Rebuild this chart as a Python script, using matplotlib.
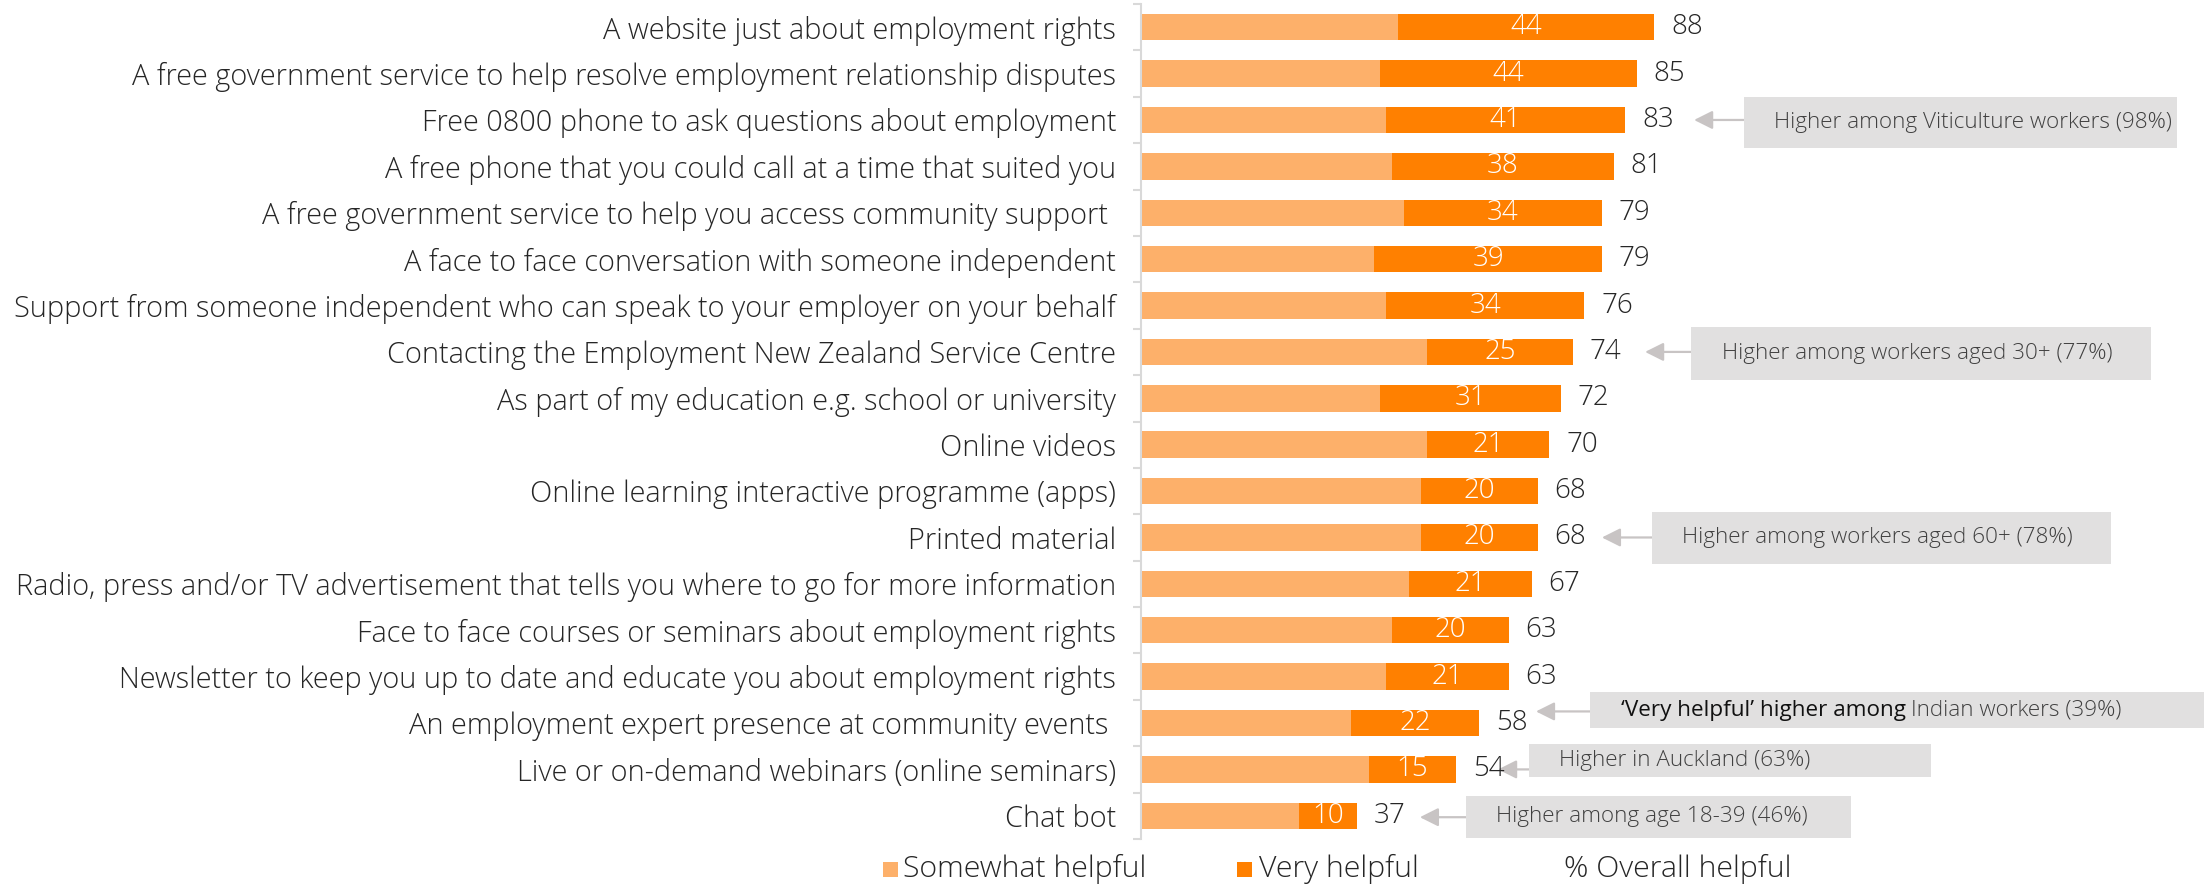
import matplotlib
matplotlib.use("Agg")
import matplotlib.pyplot as plt
from matplotlib.patches import Rectangle
import numpy as np

plt.rcParams['font.family'] = ['Open Sans', 'DejaVu Sans']

categories = [
    "A website just about employment rights",
    "A free government service to help resolve employment relationship disputes",
    "Free 0800 phone to ask questions about employment",
    "A free phone that you could call at a time that suited you",
    "A free government service to help you access community support ",
    "A face to face conversation with someone independent",
    "Support from someone independent who can speak to your employer on your behalf",
    "Contacting the Employment New Zealand Service Centre",
    "As part of my education e.g. school or university",
    "Online videos",
    "Online learning interactive programme (apps)",
    "Printed material",
    "Radio, press and/or TV advertisement that tells you where to go for more information",
    "Face to face courses or seminars about employment rights",
    "Newsletter to keep you up to date and educate you about employment rights",
    "An employment expert presence at community events ",
    "Live or on-demand webinars (online seminars)",
    "Chat bot",
]
somewhat = [44, 41, 42, 43, 45, 40, 42, 49, 41, 49, 48, 48, 46, 43, 42, 36, 39, 27]
very = [44, 44, 41, 38, 34, 39, 34, 25, 31, 21, 20, 20, 21, 20, 21, 22, 15, 10]
overall = [88, 85, 83, 81, 79, 79, 76, 74, 72, 70, 68, 68, 67, 63, 63, 58, 54, 37]

legend_labels = ["Somewhat helpful", "Very helpful", "% Overall helpful"]

# Call-out notes: (row, text)
notes = [
    (2, "Higher among Viticulture workers (98%)"),
    (7, "Higher among workers aged 30+ (77%)"),
    (11, "Higher among workers aged 60+ (78%)"),
    (15, "Indian workers (39%)"),
    (16, "Higher in Auckland (63%)"),
    (17, "Higher among age 18-39 (46%)"),
]
note_lead_bold = "\u2018Very helpful\u2019 higher among "

C_LIGHT = "#FDB06A"
C_DARK = "#FF8000"
C_TEXT = "#262626"
C_BOX = "#E1E0E0"
C_ARROW = "#C8C4C4"

W, H = 2204, 885
fig = plt.figure(figsize=(W / 100, H / 100), dpi=100)
ax = fig.add_axes([1141 / W, (H - 839) / H, (W - 1141) / W, 835 / H])

y = np.arange(len(categories))
bar_h = 0.57
ax.barh(y, somewhat, height=bar_h, color=C_LIGHT, linewidth=0)
ax.barh(y, very, left=somewhat, height=bar_h, color=C_DARK, linewidth=0)

for i in range(len(categories)):
    ax.text(somewhat[i] + very[i] / 2, i, str(very[i]), ha="center", va="center",
            color="white", fontsize=20, fontweight="light")
    ax.annotate(str(overall[i]), xy=(somewhat[i] + very[i], i), xytext=(12, 0),
                textcoords="offset points", ha="left", va="center",
                color=C_TEXT, fontsize=20, fontweight="light")

ax.set_xlim(0, 182.2)
ax.set_ylim(len(categories) - 0.5, -0.5)
ax.set_yticks(y)
ax.set_yticklabels(categories, fontsize=20.8, color=C_TEXT, fontweight="light")
ax.set_yticks(np.arange(len(categories) + 1) - 0.5, minor=True)
ax.tick_params(axis="y", which="major", length=0, pad=18)
ax.tick_params(axis="y", which="minor", length=6, color="#D9D9D9", width=1.5)
ax.set_xticks([])
for s in ["top", "right", "bottom"]:
    ax.spines[s].set_visible(False)
ax.spines["left"].set_color("#D9D9D9")
ax.spines["left"].set_linewidth(1.5)

# Call-out boxes with arrows pointing at the overall value
box_geom = {
    2: (103.3, 177.6, 1.51, 2.61, 94.8, 2.0),
    7: (94.3, 173.1, 6.47, 7.61, 86.4, 7.0),
    11: (87.6, 166.2, 10.45, 11.57, 79.0, 11.0),
    15: (77.0, 182.2, 14.33, 15.11, 67.7, 14.75),
    16: (66.5, 135.4, 15.45, 16.16, 61.2, 16.0),
    17: (55.7, 121.7, 16.57, 17.48, 47.8, 17.03),
}
for row, txt in notes:
    x0, x1, y0, y1, tip_x, tip_y = box_geom[row]
    ax.add_patch(Rectangle((x0, y0), x1 - x0, y1 - y0, facecolor=C_BOX,
                           edgecolor="none", clip_on=False, zorder=2))
    ax.annotate("", xy=(tip_x, tip_y), xytext=(x0, tip_y),
                arrowprops=dict(arrowstyle="-|>", color=C_ARROW, lw=1.6,
                                mutation_scale=28, shrinkA=0, shrinkB=0),
                zorder=1, annotation_clip=False)
    yc = (y0 + y1) / 2
    if row == 15:
        lead = ax.text(x0 + 5.2, yc, note_lead_bold, ha="left", va="center",
                       fontsize=16.2, color="#111111", zorder=3)
        ax.annotate(txt, xy=(1, 0.5), xycoords=lead, ha="left", va="center",
                    fontsize=16.2, color="#404040", fontweight="light", zorder=3)
    else:
        ax.text(x0 + 5.2, yc, txt, ha="left", va="center", fontsize=16.2,
                color="#404040", fontweight="light", zorder=3)

# Legend row along the bottom
ly = (H - 869) / H
sq = 15
fig.add_artist(Rectangle((883 / W, ly - sq / 2 / H), sq / W, sq / H,
                         transform=fig.transFigure, facecolor=C_LIGHT, edgecolor="none"))
fig.text(903 / W, ly, legend_labels[0], ha="left", va="center", fontsize=21.8,
         color=C_TEXT, fontweight="light")
fig.add_artist(Rectangle((1237 / W, ly - sq / 2 / H), sq / W, sq / H,
                         transform=fig.transFigure, facecolor=C_DARK, edgecolor="none"))
fig.text(1259 / W, ly, legend_labels[1], ha="left", va="center", fontsize=21.8,
         color=C_TEXT, fontweight="light")
fig.text(1564 / W, ly, legend_labels[2], ha="left", va="center", fontsize=21.8,
         color=C_TEXT, fontweight="light")

fig.savefig("out.png", dpi=100, facecolor="white")
